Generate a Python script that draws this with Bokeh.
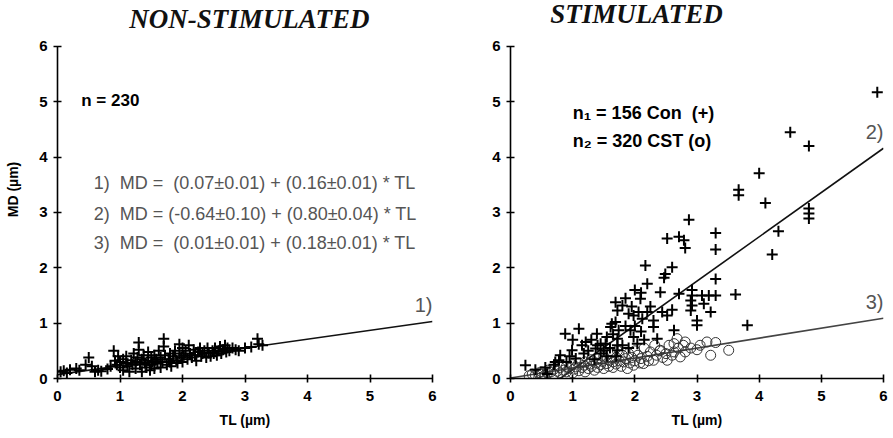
import numpy as np
from bokeh.plotting import figure
from bokeh.layouts import row
from bokeh.models import FixedTicker
from bokeh.core.properties import value
from bokeh.embed import file_html
from bokeh.resources import INLINE

# ---------------- data ----------------
tick_values = [0, 1, 2, 3, 4, 5, 6]
panel_titles = ["NON-STIMULATED", "STIMULATED"]
x_label = "TL (µm)"
y_label = "MD (µm)"

# fits: MD = a + b * TL
fit_names = ["1)", "2)", "3)"]
fit_a = [0.07, -0.64, 0.01]
fit_b = [0.16, 0.80, 0.18]
fit_x_start = [0.0, 0.8, 0.0]
fit_x_end = [6.0, 6.0, 6.0]

NB = "\u00a0"
eq_texts = [
    "1)" + NB + " MD =" + NB + " (0.07±0.01) + (0.16±0.01) * TL",
    "2)" + NB + " MD = (-0.64±0.10) + (0.80±0.04) * TL",
    "3)" + NB + " MD =" + NB + " (0.01±0.01) + (0.18±0.01) * TL",
]
n_text_left = "n = 230"
n_texts_right = ["n\u2081 = 156 Con" + NB + " (+)", "n\u2082 = 320 CST (o)"]

# non-stimulated (+)
ns_x = [0.05, 0.1, 0.15, 0.2, 0.3, 0.35, 0.45, 0.5, 0.55, 0.6, 0.65, 0.7, 0.8, 0.85,
        0.9, 0.92, 0.95, 0.97, 1.0, 1.0,
        1.05, 1.05, 1.1, 1.1, 1.12, 1.15, 1.18, 1.2, 1.22, 1.25, 1.25, 1.28, 1.3, 1.3, 1.32,
        1.35, 1.35, 1.38, 1.4, 1.42, 1.45, 1.45, 1.48, 1.5, 1.5,
        1.52, 1.55, 1.55, 1.58, 1.6, 1.62, 1.65, 1.65, 1.68, 1.7, 1.7, 1.72, 1.75, 1.78, 1.8,
        1.8, 1.82, 1.85, 1.88, 1.9, 1.92, 1.95, 1.95, 1.98, 2.0, 2.0,
        2.02, 2.05, 2.08, 2.1, 2.12, 2.15, 2.18, 2.2, 2.22, 2.25, 2.28, 2.3, 2.32, 2.35, 2.38,
        2.4, 2.42, 2.45, 2.48,
        2.5, 2.52, 2.55, 2.58, 2.6, 2.62, 2.65, 2.68, 2.7, 2.72, 2.75, 2.8, 2.85, 2.9, 3.0,
        3.1, 3.2, 3.22, 3.28]
ns_y = [0.12, 0.14, 0.1, 0.16, 0.18, 0.15, 0.25, 0.38, 0.22, 0.12, 0.15, 0.13, 0.17, 0.22,
        0.5, 0.32, 0.25, 0.4, 0.3, 0.2,
        0.35, 0.15, 0.28, 0.4, 0.22, 0.12, 0.33, 0.25, 0.45, 0.3, 0.18, 0.38, 0.65, 0.52, 0.25,
        0.12, 0.35, 0.42, 0.28, 0.2, 0.32, 0.48, 0.15, 0.38, 0.25,
        0.3, 0.42, 0.18, 0.35, 0.27, 0.5, 0.38, 0.2, 0.3, 0.72, 0.58, 0.42, 0.25, 0.35, 0.45,
        0.3, 0.22, 0.4, 0.5, 0.33, 0.28, 0.45, 0.62, 0.38, 0.55, 0.3,
        0.42, 0.5, 0.35, 0.6, 0.45, 0.38, 0.52, 0.42, 0.32, 0.48, 0.55, 0.4, 0.45, 0.5, 0.38,
        0.55, 0.46, 0.4, 0.5,
        0.45, 0.55, 0.42, 0.5, 0.58, 0.45, 0.52, 0.6, 0.48, 0.55, 0.5, 0.55, 0.52, 0.5, 0.55,
        0.57, 0.72, 0.62, 0.6]

# stimulated, Con (+)
con_x = [5.9, 4.5, 4.8, 4.0, 3.67, 3.67, 4.1, 4.8, 4.8, 4.8, 4.31, 4.21, 2.87, 2.52, 2.71,
         2.79, 2.81, 3.3, 3.3, 2.17, 2.6, 2.49, 2.47, 2.2, 2.41, 3.3, 2.92, 2.92, 2.9, 2.92,
         2.9, 3.08, 3.19, 3.3, 3.11, 3.22, 3.62, 3.81, 3.0, 3.0, 2.71, 2.6, 1.69, 1.72, 2.09,
         1.9, 1.98, 2.12, 1.69, 1.61, 2.44, 2.52, 0.88, 1.1, 1.39, 1.21, 0.99, 0.8, 0.78, 0.24,
         0.4, 0.59, 1.45, 1.5, 1.93, 1.98, 2.04, 2.3, 2.36, 2.63, 1.72, 1.72, 1.72, 1.8, 2.06,
         1.63, 1.74, 1.53, 1.37, 1.18, 1.05, 0.56, 0.72,
         1.25, 1.3, 1.4, 1.45, 1.55, 1.6, 1.65, 1.8, 1.85, 1.9, 2.0, 2.1, 2.15, 2.2, 2.25,
         2.3, 1.95, 1.85, 2.0, 2.1, 1.15, 1.0, 0.95, 0.7, 0.9, 1.35, 1.55, 1.7]
con_y = [5.17, 4.45, 4.2, 3.71, 3.41, 3.31, 3.17, 3.07, 2.98, 2.89, 2.66, 2.24, 2.87, 2.53, 2.56,
         2.5, 2.36, 2.63, 2.33, 2.04, 2.01, 1.89, 1.82, 1.71, 1.56, 1.8, 1.6, 1.5, 1.41, 1.32,
         1.23, 1.5, 1.5, 1.5, 1.35, 1.2, 1.52, 0.96, 1.05, 0.96, 1.53, 1.24, 1.38, 1.23, 1.44,
         1.17, 1.14, 1.08, 1.02, 0.93, 1.2, 1.14, 0.81, 0.9, 0.81, 0.66, 0.51, 0.42, 0.33, 0.24,
         0.16, 0.08, 0.63, 0.51, 0.87, 0.75, 0.63, 0.93, 0.72, 0.87, 0.72, 0.6, 0.51, 1.32, 1.2,
         0.99, 0.87, 0.63, 0.54, 0.45, 0.36, 0.2, 0.3,
         0.5, 0.7, 0.6, 0.45, 0.75, 0.55, 0.8, 0.6, 0.95, 0.55, 0.95, 0.85, 0.7, 1.2, 1.3,
         1.05, 1.3, 1.45, 1.6, 1.55, 0.6, 0.7, 0.4, 0.25, 0.3, 0.35, 0.4, 0.4]

# stimulated, CST (o)
cst_x = [0.3, 0.35, 0.4, 0.45, 0.5, 0.5, 0.55, 0.6, 0.6, 0.65, 0.7, 0.7, 0.75, 0.8, 0.8,
         0.85, 0.9, 0.9, 0.95, 1.0, 1.0, 1.02, 1.05, 1.1, 1.1, 1.15, 1.18, 1.2, 1.2, 1.25,
         1.28, 1.3, 1.3, 1.35, 1.38, 1.4, 1.4, 1.45, 1.48, 1.5, 1.5, 1.55, 1.58, 1.6, 1.6,
         1.65, 1.65, 1.7, 1.7, 1.72, 1.75, 1.78, 1.8, 1.82, 1.85, 1.88, 1.9, 1.92, 1.95, 1.98,
         2.0, 2.0, 2.05, 2.08, 2.1, 2.14, 2.15, 2.2, 2.22, 2.25, 2.3, 2.32, 2.35, 2.4, 2.41,
         2.45, 2.5, 2.52, 2.55, 2.6, 2.63, 2.63, 2.68, 2.7, 2.73, 2.78, 2.81, 2.81, 2.9, 3.0,
         3.05, 3.16, 3.22, 3.3, 3.51]
cst_y = [0.05, 0.08, 0.06, 0.1, 0.08, 0.12, 0.06, 0.1, 0.15, 0.12, 0.08, 0.17, 0.13, 0.1, 0.2,
         0.15, 0.12, 0.22, 0.18, 0.1, 0.25, 0.17, 0.21, 0.14, 0.28, 0.2, 0.24, 0.12, 0.3, 0.18,
         0.26, 0.22, 0.34, 0.15, 0.28, 0.2, 0.36, 0.25, 0.31, 0.18, 0.4, 0.27, 0.22, 0.33, 0.45,
         0.2, 0.3, 0.38, 0.26, 0.5, 0.32, 0.22, 0.42, 0.3, 0.36, 0.18, 0.45, 0.28, 0.38, 0.24,
         0.5, 0.32, 0.42, 0.28, 0.36, 0.27, 0.55, 0.4, 0.32, 0.48, 0.33, 0.6, 0.42, 0.5, 0.51,
         0.38, 0.45, 0.33, 0.6, 0.42, 0.48, 0.63, 0.72, 0.55, 0.39, 0.6, 0.66, 0.48, 0.55, 0.52,
         0.6, 0.66, 0.42, 0.65, 0.51]

# ---------------- styling helpers ----------------
SANS = "Liberation Sans"
SERIF = "Liberation Serif"
GREY = "#555555"
Y_TOP = 6.83  # frame extends above the axis to hold the panel title


def make_panel(width, border_left, border_right):
    p = figure(width=width, height=438, x_range=(0, 6), y_range=(0, Y_TOP),
               output_backend="svg", toolbar_location=None,
               min_border_left=border_left, min_border_right=border_right,
               min_border_top=0, min_border_bottom=60)
    p.outline_line_color = None
    p.grid.visible = False
    p.background_fill_color = "white"
    p.border_fill_color = "white"
    for ax in (p.xaxis, p.yaxis):
        ax.ticker = FixedTicker(ticks=tick_values)
        ax.axis_line_width = 1.6
        ax.axis_line_color = "black"
        ax.major_tick_line_width = 1.6
        ax.major_tick_line_color = "black"
        ax.major_tick_in = 4
        ax.major_tick_out = 4
        ax.minor_tick_line_color = None
        ax.major_label_text_font = SANS
        ax.major_label_text_font_style = "bold"
        ax.major_label_text_font_size = "15px"
        ax.major_label_text_color = "black"
        ax.axis_label_text_font = SANS
        ax.axis_label_text_font_style = "bold"
        ax.axis_label_text_font_size = "14px"
        ax.axis_label_text_color = "black"
    p.yaxis.bounds = (0, 6)
    p.xaxis.major_label_standoff = 8
    p.yaxis.major_label_standoff = 6
    p.xaxis.axis_label = x_label
    p.xaxis.axis_label_standoff = 8
    return p


def panel_title(p, text, x, y, align):
    p.text(x=[x], y=[y], text=[text], text_align=align, text_baseline="middle",
           text_font=value(SERIF), text_font_style="bold italic",
           text_font_size="27px", text_color="#111111")


def fit_line(p, i, color):
    xs = np.array([fit_x_start[i], fit_x_end[i]])
    ys = fit_a[i] + fit_b[i] * xs
    p.line(xs, ys, line_color=color, line_width=1.6)
    p.text(x=[fit_x_end[i]], y=[ys[-1] + 0.3], text=[fit_names[i]],
           text_align="right", text_baseline="middle",
           text_font=value(SANS), text_font_size="20px", text_color=GREY)


# ---------------- left panel ----------------
left = make_panel(470, 57, 38)
left.yaxis.axis_label = y_label
left.yaxis.axis_label_standoff = 15
panel_title(left, panel_titles[0], 3.07, 6.5, "center")
fit_line(left, 0, "#111111")
left.scatter(ns_x, ns_y, marker="cross", size=11, line_width=2, line_color="black")
left.text(x=[0.38], y=[5.03], text=[n_text_left], text_baseline="middle",
          text_font=value(SANS), text_font_style="bold", text_font_size="17px",
          text_color="black")
left.text(x=[0.58, 0.58, 0.58], y=[3.53, 2.98, 2.44], text=eq_texts, text_baseline="middle",
          text_font=value(SANS), text_font_size="18px", text_color=GREY)

# ---------------- right panel ----------------
right = make_panel(423, 40, 10)
panel_title(right, panel_titles[1], 0.64, 6.58, "left")
fit_line(right, 1, "#111111")
fit_line(right, 2, "#444444")
right.scatter(cst_x, cst_y, marker="circle", size=10, fill_color=None,
              line_color="#333333", line_width=1)
right.scatter(con_x, con_y, marker="cross", size=11, line_width=2, line_color="black")
right.text(x=[1.0, 1.0], y=[4.79, 4.30], text=n_texts_right, text_baseline="middle",
           text_font=value(SANS), text_font_style="bold", text_font_size="18px",
           text_color="black")

layout = row(left, right)
open("out.html", "w").write(file_html(layout, INLINE))
